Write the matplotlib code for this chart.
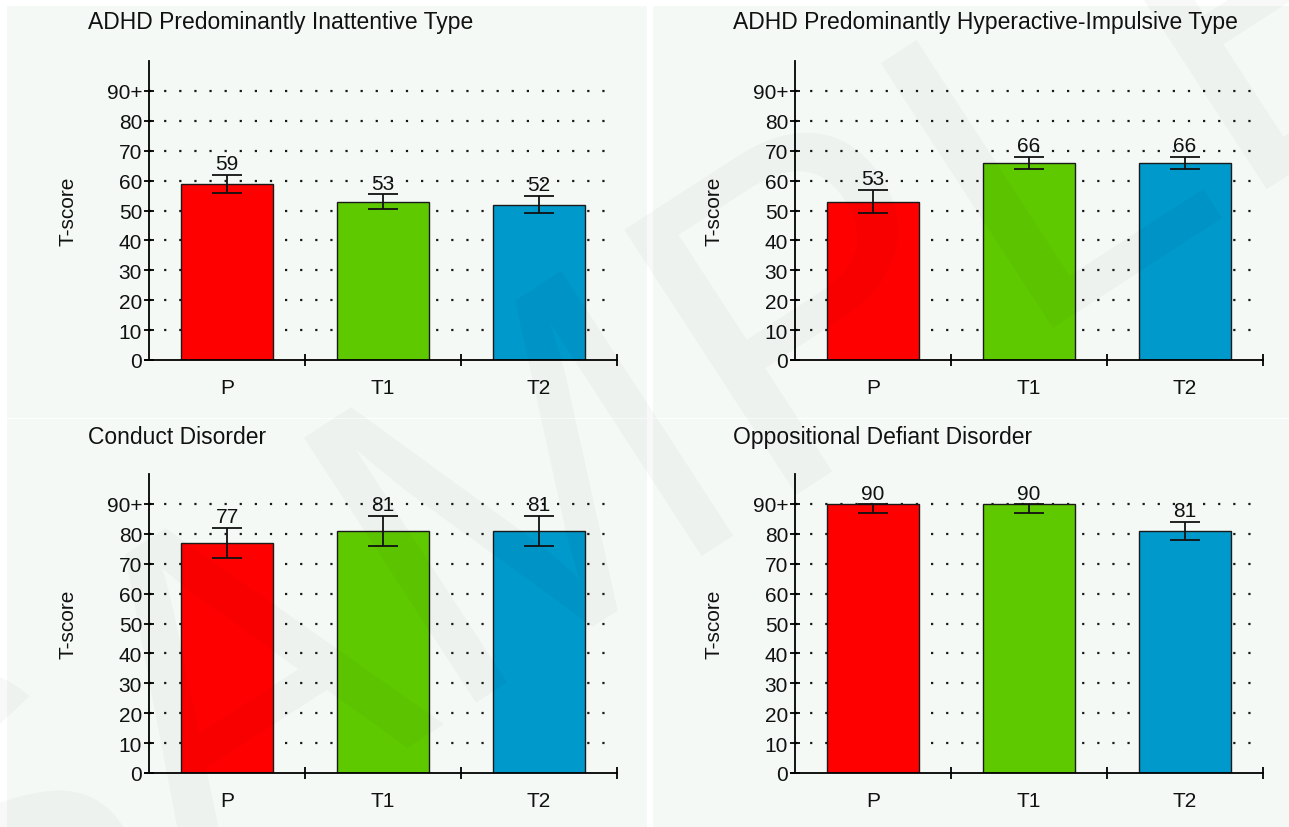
import numpy as np
import matplotlib.pyplot as plt
from matplotlib.patches import Rectangle

plt.rcParams['font.family'] = ['Liberation Sans', 'DejaVu Sans']

# 数据
groups = ['P', 'T1', 'T2']
titles = ['ADHD Predominantly Inattentive Type',
          'ADHD Predominantly Hyperactive-Impulsive Type',
          'Conduct Disorder',
          'Oppositional Defiant Disorder']
scores = [[59, 53, 52],
          [53, 66, 66],
          [77, 81, 81],
          [90, 90, 81]]
err_low = [[3, 2.5, 3],
           [4, 2, 2],
           [5, 5, 5],
           [3, 3, 3]]
err_high = [[3, 2.5, 3],
            [4, 2, 2],
            [5, 5, 5],
            [0, 0, 3]]
y_ticks = [0, 10, 20, 30, 40, 50, 60, 70, 80, 90]
y_tick_labels = ['0', '10', '20', '30', '40', '50', '60', '70', '80', '90+']
bar_colors = ['#ff0000', '#5fc900', '#0099cc']

W, H = 1289, 828
fig = plt.figure(figsize=(W / 100, H / 100), dpi=100)
fig.patch.set_facecolor('white')

# 背景面板
panel_bg = '#f4f9f6'
for (x0, y0, x1, y1) in [(7, 7, 647, 419), (653, 7, 1289, 419),
                         (7, 420, 647, 828), (653, 420, 1289, 828)]:
    fig.patches.append(Rectangle((x0 / W, 1 - y1 / H), (x1 - x0) / W, (y1 - y0) / H,
                                 transform=fig.transFigure, facecolor=panel_bg,
                                 edgecolor='none', zorder=-10))

# 坐标轴位置 (像素)
ax_x = [149, 795]
ax_y = [(62, 361), (475, 774)]
title_x = [88, 733]
title_y = [22, 438]

for k in range(4):
    row, col = divmod(k, 2)
    top, bottom = ax_y[row]
    ax = fig.add_axes([(ax_x[col] - 4) / W, 1 - bottom / H, (468 + 4) / W, (bottom - top) / H])
    ax.patch.set_alpha(0)
    ax.set_xlim(-0.5 - 0.026, 2.5)
    ax.set_ylim(0, 100)
    x = np.arange(len(groups))

    # 点状网格
    ax.hlines(y_ticks[1:], -0.5, 2.5, colors='#1a1a1a', linestyles=(0, (1, 5.8)),
              linewidth=1.6, zorder=1)

    ax.bar(x, scores[k], width=0.59, color=bar_colors, edgecolor='#1a1a1a',
           linewidth=1.0, zorder=2)
    ax.errorbar(x, scores[k], yerr=[err_low[k], err_high[k]], fmt='none',
                ecolor='#111111', elinewidth=1.3, capsize=10.5, capthick=1.3, zorder=3)
    for i, v in enumerate(scores[k]):
        ax.annotate(str(v), (i, v + err_high[k][i]), xytext=(0, 1),
                    textcoords='offset points', ha='center', va='bottom',
                    fontsize=15, color='#111111', zorder=4)

    for s in ['top', 'right']:
        ax.spines[s].set_visible(False)
    ax.spines['left'].set_position(('data', -0.5))
    ax.spines['left'].set_bounds(0, 100)
    ax.spines['left'].set_linewidth(1.3)
    ax.spines['bottom'].set_linewidth(1.3)

    ax.set_yticks(y_ticks)
    ax.set_yticklabels(y_tick_labels)
    ax.tick_params(axis='y', direction='inout', length=7, width=1.3, pad=1.5,
                   labelsize=15, labelcolor='#111111')
    ax.set_xticks([0.5, 1.5, 2.5])
    ax.set_xticklabels([])
    ax.tick_params(axis='x', which='major', direction='inout', length=9, width=1.3)
    ax.set_xticks(x, groups, minor=True)
    ax.tick_params(axis='x', which='minor', length=0, pad=13, labelsize=15,
                   labelcolor='#111111')

    ax.set_ylabel('T-score', fontsize=15, color='#111111')
    ax.yaxis.set_label_coords(-0.142, 0.5)

    fig.text(title_x[col] / W, 1 - title_y[row] / H, titles[k], fontsize=16.5,
             ha='left', va='center', color='#111111')

# 水印
fig.text(0.5, 0.47, 'SAMPLE', fontsize=330, rotation=33, ha='center', va='center',
         color='#000000', alpha=0.03, zorder=10)

fig.savefig('out.png', dpi=100)
